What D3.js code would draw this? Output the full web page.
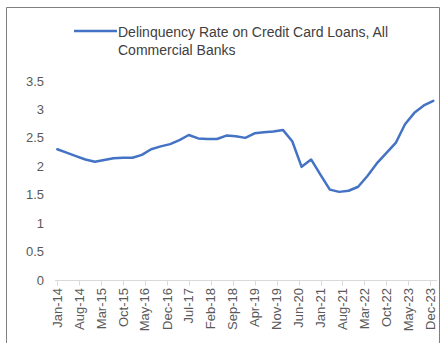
<!DOCTYPE html>
<html>
<head>
<meta charset="utf-8">
<script src="https://cdn.jsdelivr.net/npm/d3@7/dist/d3.min.js"></script>
<style>
  html, body { margin: 0; padding: 0; background: #ffffff; }
  svg { display: block; font-family: "Liberation Sans", Arial, sans-serif; }
</style>
</head>
<body>
<svg id="chart" width="446" height="343"></svg>
<script>
// ---- data (quarterly, first month of quarter) ----
const seriesName = ["Delinquency Rate on Credit Card Loans, All", "Commercial Banks"];
const dates = [
  "Jan-14","Apr-14","Jul-14","Oct-14","Jan-15","Apr-15","Jul-15","Oct-15",
  "Jan-16","Apr-16","Jul-16","Oct-16","Jan-17","Apr-17","Jul-17","Oct-17",
  "Jan-18","Apr-18","Jul-18","Oct-18","Jan-19","Apr-19","Jul-19","Oct-19",
  "Jan-20","Apr-20","Jul-20","Oct-20","Jan-21","Apr-21","Jul-21","Oct-21",
  "Jan-22","Apr-22","Jul-22","Oct-22","Jan-23","Apr-23","Jul-23","Oct-23",
  "Jan-24"
];
const values = [
  2.30, 2.24, 2.18, 2.12, 2.08, 2.11, 2.14, 2.15,
  2.15, 2.20, 2.30, 2.35, 2.39, 2.46, 2.55, 2.49,
  2.48, 2.48, 2.54, 2.53, 2.50, 2.58, 2.60, 2.61,
  2.64, 2.44, 1.99, 2.12, 1.85, 1.59, 1.55, 1.57,
  1.64, 1.83, 2.05, 2.23, 2.41, 2.74, 2.94, 3.07,
  3.15
];
const xTickLabels = [
  "Jan-14","Aug-14","Mar-15","Oct-15","May-16","Dec-16","Jul-17","Feb-18","Sep-18",
  "Apr-19","Nov-19","Jun-20","Jan-21","Aug-21","Mar-22","Oct-22","May-23","Dec-23"
];
const yTicks = [0, 0.5, 1, 1.5, 2, 2.5, 3, 3.5];
const yTickLabels = ["0", "0.5", "1", "1.5", "2", "2.5", "3", "3.5"];

// ---- drawing ----
const parse = d3.timeParse("%b-%y");
const data = dates.map((d, i) => ({ date: parse(d), value: values[i] }));

const svg = d3.select("#chart");
const labelColor = "#595959";

// outer border
svg.append("path")
  .attr("d", "M6.5,343 L6.5,7.5 L439.5,7.5 L439.5,343")
  .attr("fill", "none")
  .attr("stroke", "#7f7f7f")
  .attr("stroke-width", 1);

const x = d3.scaleTime()
  .domain([parse("Jan-14"), parse("Jan-24")])
  .range([57.3, 433.3]);
const y = d3.scaleLinear()
  .domain([0, 3.5])
  .range([280, 81]);

// x axis line & ticks
const axisY = 280.5;
svg.append("line")
  .attr("x1", 55).attr("x2", 437)
  .attr("y1", axisY).attr("y2", axisY)
  .attr("stroke", "#d9d9d9").attr("stroke-width", 1);

const xt = svg.append("g");
xTickLabels.forEach(lbl => {
  const px = Math.round(x(parse(lbl))) + 0.5;
  xt.append("line")
    .attr("x1", px).attr("x2", px)
    .attr("y1", axisY).attr("y2", axisY + 5)
    .attr("stroke", "#d9d9d9").attr("stroke-width", 1);
  xt.append("text")
    .attr("transform", `translate(${x(parse(lbl))},288) rotate(-90)`)
    .attr("text-anchor", "end")
    .attr("dy", "0.35em")
    .attr("font-size", 13)
    .attr("fill", labelColor)
    .text(lbl);
});

// y tick labels
const yt = svg.append("g");
yTicks.forEach((t, i) => {
  yt.append("text")
    .attr("x", 44)
    .attr("y", y(t))
    .attr("dy", "0.35em")
    .attr("text-anchor", "end")
    .attr("font-size", 13)
    .attr("fill", labelColor)
    .text(yTickLabels[i]);
});

// line
const line = d3.line()
  .x(d => x(d.date))
  .y(d => y(d.value));
svg.append("path")
  .datum(data)
  .attr("d", line)
  .attr("fill", "none")
  .attr("stroke", "#4472C4")
  .attr("stroke-width", 2.5)
  .attr("stroke-linejoin", "round")
  .attr("stroke-linecap", "round");

// legend
const lg = svg.append("g");
lg.append("line")
  .attr("x1", 74).attr("x2", 117)
  .attr("y1", 31).attr("y2", 31)
  .attr("stroke", "#4472C4").attr("stroke-width", 2.5);
seriesName.forEach((s, i) => {
  lg.append("text")
    .attr("x", 118)
    .attr("y", 37 + i * 18)
    .attr("font-size", 14)
    .attr("fill", "#404040")
    .text(s);
});
</script>
</body>
</html>
